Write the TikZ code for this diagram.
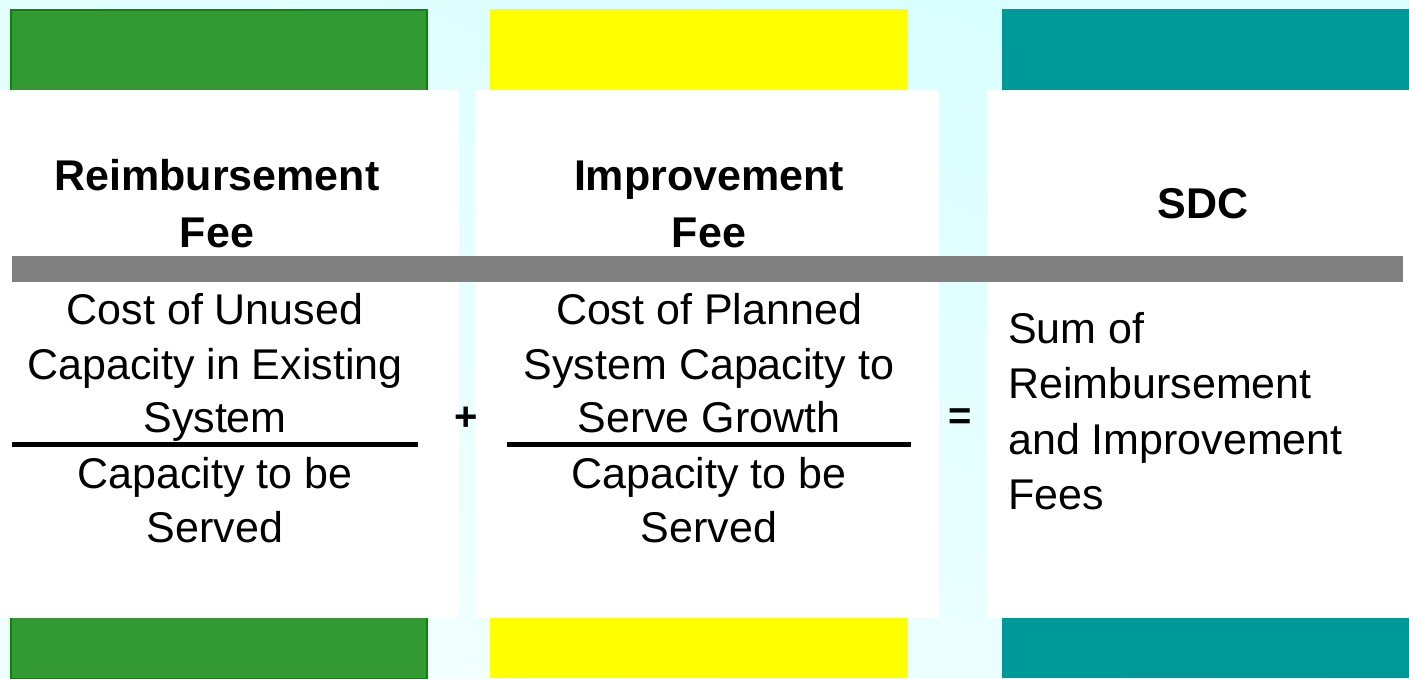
\documentclass[tikz,border=0pt]{standalone}
\usepackage{fontspec}
\setmainfont{Liberation Sans}
\definecolor{barGreen}{HTML}{339933}
\definecolor{barGreenEdge}{HTML}{0A840A}
\definecolor{barYellow}{HTML}{FFFF00}
\definecolor{barTeal}{HTML}{009999}
\definecolor{ruleGrey}{HTML}{808080}
\definecolor{bgTop}{HTML}{D9FFFF}
\definecolor{bgBottom}{HTML}{F2FFFF}
\begin{document}
\begin{tikzpicture}[x=1pt,y=-1pt,
  greenbar/.style={fill=barGreen,draw=barGreenEdge,line width=2pt},
  yellowbar/.style={fill=barYellow},
  tealbar/.style={fill=barTeal},
  panel/.style={fill=white},
  headtxt/.style={font=\fontsize{43}{52}\selectfont\bfseries,anchor=base,inner sep=0pt},
  bodytxt/.style={font=\fontsize{43}{52}\selectfont,anchor=base,inner sep=0pt},
  bodyleft/.style={bodytxt,anchor=base west},
  optxt/.style={font=\bfseries\fontsize{40}{44}\selectfont,inner sep=0pt},
  fracline/.style={line width=5pt,black}
]
\useasboundingbox (0,0) rectangle (1409,678);
\shade[top color=bgTop,bottom color=bgBottom,shading angle=-20] (0,0) rectangle (1409,678);
% top bars
\path[greenbar] (11,10) rectangle (427,92);
\path[yellowbar] (490,9) rectangle (908,90);
\path[tealbar] (1002,9) rectangle (1409,90);
% bottom bars
\path[greenbar] (11,616) rectangle (427,679);
\path[yellowbar] (490,618) rectangle (908,678);
\path[tealbar] (1002,618) rectangle (1409,678);
% white panels
\path[panel] (0,90) rectangle (459,618);
\path[panel] (475,90) rectangle (939,618);
\path[panel] (987,90) rectangle (1409,618);
% grey rule
\fill[ruleGrey] (12,256) rectangle (1403,282);
% headings
\node[headtxt] (h1a) at (217,190) {Reimbursement};
\node[headtxt] (h1b) at (217,247) {Fee};
\node[headtxt] (h2a) at (709,190) {Improvement};
\node[headtxt] (h2b) at (709,247) {Fee};
\node[headtxt] (h3) at (1203,218) {SDC};
% column 1
\node[bodytxt] (c1a) at (215,324) {Cost of Unused};
\node[bodytxt] (c1b) at (215,379) {Capacity in Existing};
\node[bodytxt] (c1c) at (215,432) {System};
\coordinate (f1l) at (12,444);
\coordinate (f1r) at (418,444);
\draw[fracline] (f1l) -- (f1r);
\node[bodytxt] (c1d) at (215,488) {Capacity to be};
\node[bodytxt] (c1e) at (215,542) {Served};
% operator
\node[optxt] (plus) at (466,419) {+};
% column 2
\node[bodytxt] (c2a) at (709,324) {Cost of Planned};
\node[bodytxt] (c2b) at (709,379) {System Capacity to};
\node[bodytxt] (c2c) at (709,432) {Serve Growth};
\coordinate (f2l) at (507,444);
\coordinate (f2r) at (911,444);
\draw[fracline] (f2l) -- (f2r);
\node[bodytxt] (c2d) at (709,488) {Capacity to be};
\node[bodytxt] (c2e) at (709,542) {Served};
% operator
\node[optxt] (eq) at (960,419) {=};
% column 3
\node[bodyleft] (c3a) at (1008,343) {Sum of};
\node[bodyleft] (c3b) at (1008,398) {Reimbursement};
\node[bodyleft] (c3c) at (1008,454) {and Improvement};
\node[bodyleft] (c3d) at (1008,509) {Fees};
\end{tikzpicture}
\end{document}
